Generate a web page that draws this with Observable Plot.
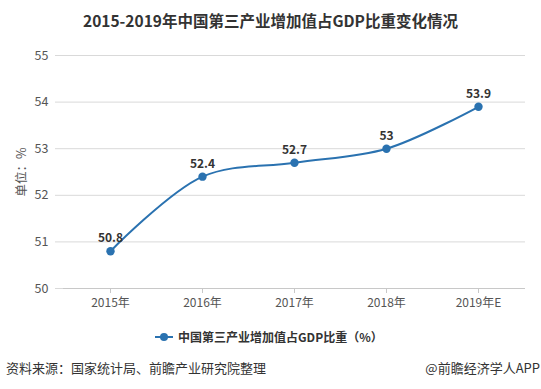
<!DOCTYPE html>
<html>
<head>
<meta charset="utf-8">
<script src="https://cdn.jsdelivr.net/npm/d3@7"></script>
<script src="https://cdn.jsdelivr.net/npm/@observablehq/plot@0.6"></script>
<style>
  html, body { margin: 0; padding: 0; background: #fff; }
  body { width: 541px; height: 389px; position: relative; overflow: hidden; font-family: "Noto Sans CJK SC", "Noto Sans", sans-serif; }
  #title { position: absolute; top: 9px; left: 0; width: 541px; text-align: center; font-size: 15.5px; font-weight: bold; color: #333; }
  #chart { position: absolute; top: 40px; left: 0; }
  #legend { position: absolute; top: 328px; left: 155px; font-size: 12px; font-weight: bold; color: #333; display: flex; align-items: center; }
  #legend svg { margin-right: 5px; }
  #src { position: absolute; top: 358px; left: 6px; font-size: 13px; color: #333; }
  #credit { position: absolute; top: 358px; right: 1px; font-size: 13px; color: #333; }
</style>
</head>
<body>
<div id="title">2015-2019年中国第三产业增加值占GDP比重变化情况</div>
<div id="chart"></div>
<div id="legend"></div>
<div id="src">资料来源：国家统计局、前瞻产业研究院整理</div>
<div id="credit">@前瞻经济学人APP</div>
<script>
const years = ["2015年", "2016年", "2017年", "2018年", "2019年E"];
const values = [50.8, 52.4, 52.7, 53, 53.9];
const yTicks = [50, 51, 52, 53, 54, 55];
const seriesName = "中国第三产业增加值占GDP比重（%）";
const yLabel = "单位：%";

const color = "#2a72b0";
const data = years.map((y, i) => ({year: y, value: values[i]}));

const chart = Plot.plot({
  width: 541,
  height: 275,
  marginTop: 15,
  marginBottom: 27,
  marginLeft: 63,
  marginRight: 16,
  style: {fontFamily: "'Noto Sans CJK SC', sans-serif", fontSize: "12px", color: "#555", background: "transparent"},
  x: {type: "point", domain: years, padding: 0.5, label: null},
  y: {domain: [50, 55], ticks: yTicks, label: yLabel},
  marks: [
    Plot.gridY(yTicks, {stroke: "#d9d9d9", strokeOpacity: 1, insetLeft: -8}),
    Plot.ruleY([50], {stroke: "#c8c8c8"}),
    Plot.axisY({ticks: yTicks, tickFormat: d3.format("d"), tickSize: 0, tickPadding: 15, fontSize: 12.5, fill: "#555", label: yLabel, labelAnchor: "center", labelOffset: 46, labelArrow: "none"}),
    Plot.axisX({tickSize: 5, tickPadding: 5, stroke: "#c8c8c8", fill: "#555", fontSize: 12, label: null}),
    Plot.line(data, {x: "year", y: "value", stroke: color, strokeWidth: 2, curve: "catmull-rom"}),
    Plot.dot(data, {x: "year", y: "value", fill: color, r: 4.2, stroke: "none"}),
    Plot.text(data, {x: "year", y: "value", text: d => String(d.value), dy: -13, fontWeight: "bold", fontSize: 12, fill: "#333"})
  ]
});
document.getElementById("chart").appendChild(chart);

const legend = document.getElementById("legend");
legend.innerHTML = `<svg width="18" height="10"><line x1="0" y1="5" x2="18" y2="5" stroke="${color}" stroke-width="2"/><circle cx="9" cy="5" r="4" fill="${color}"/></svg><span></span>`;
legend.querySelector("span").textContent = seriesName;
</script>
</body>
</html>
